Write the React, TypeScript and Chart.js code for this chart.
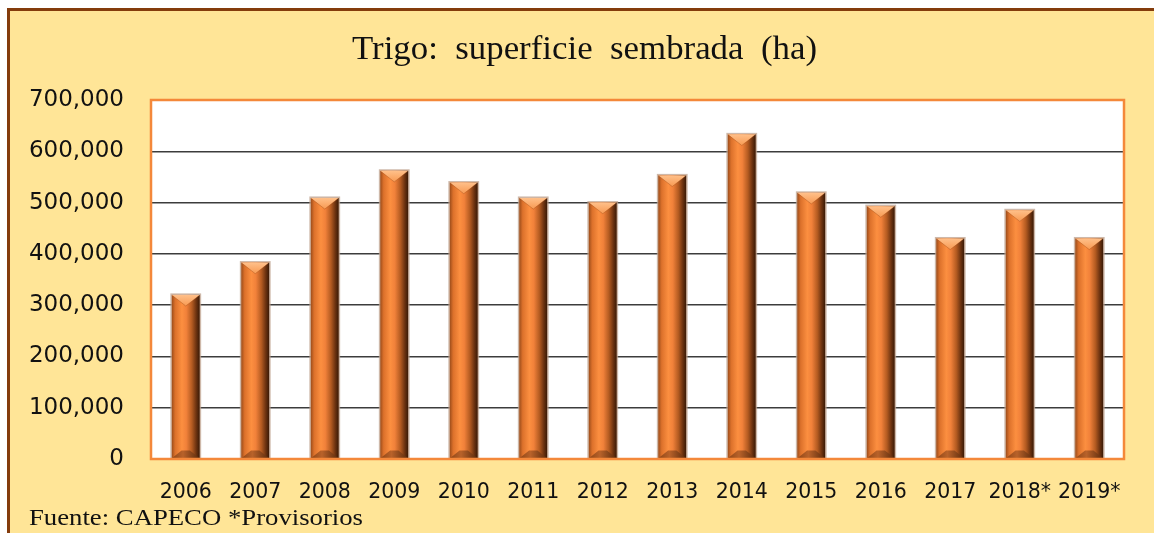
import React, { useEffect, useRef } from "react";
import { Chart, registerables } from "chart.js";

Chart.register(...registerables);

const categories = ["2006", "2007", "2008", "2009", "2010", "2011", "2012", "2013", "2014", "2015", "2016", "2017", "2018*", "2019*"];
const superficie = [320000, 383000, 509000, 562000, 539000, 509000, 500000, 553000, 633000, 519000, 493000, 430000, 485000, 430000];
const yMin = 0;
const yMax = 700000;
const yStep = 100000;
const titleText = "Trigo:  superficie  sembrada  (ha)";
const footerText = "Fuente: CAPECO *Provisorios";

const W = 1154;
const H = 533;

const decorPlugin = {
  id: "decor",
  beforeDraw(chart: any) {
    const ctx = chart.ctx;
    const a = chart.chartArea;
    ctx.save();
    ctx.fillStyle = "#ffffff";
    ctx.fillRect(0, 0, W, H);
    ctx.fillStyle = "#FFE597";
    ctx.fillRect(7, 8, W, H);
    ctx.fillStyle = "#843C0C";
    ctx.fillRect(7, 8, W, 3);
    ctx.fillRect(7, 8, 3, H);
    ctx.fillStyle = "#ffffff";
    ctx.fillRect(a.left, a.top, a.right - a.left, a.bottom - a.top);
    ctx.restore();
  },
  afterDatasetsDraw(chart: any) {
    const ctx = chart.ctx;
    const meta = chart.getDatasetMeta(0);
    ctx.save();
    meta.data.forEach((el: any) => {
      const p = el.getProps(["x", "y", "base", "width"], true);
      const w = p.width;
      const l = p.x - w / 2;
      const r = p.x + w / 2;
      const t = Math.min(p.y, p.base);
      const b = Math.max(p.y, p.base);
      // soft outline
      ctx.fillStyle = "rgba(190,160,140,0.75)";
      ctx.fillRect(l - 1.5, t - 1.5, w + 3, b - t + 1.5);
      const g = ctx.createLinearGradient(l, 0, r, 0);
      g.addColorStop(0, "#9E4E1B");
      g.addColorStop(0.12, "#DC712B");
      g.addColorStop(0.36, "#FC8F40");
      g.addColorStop(0.52, "#F1813A");
      g.addColorStop(0.72, "#B45B21");
      g.addColorStop(0.88, "#6B3210");
      g.addColorStop(1, "#3A1A06");
      ctx.fillStyle = g;
      ctx.fillRect(l, t, w, b - t);
      const d = w * 0.4;
      // top bevel: light V
      const gt = ctx.createLinearGradient(0, t, 0, t + d);
      gt.addColorStop(0, "#FFC08A");
      gt.addColorStop(1, "#F89A52");
      ctx.fillStyle = gt;
      ctx.beginPath();
      ctx.moveTo(l, t);
      ctx.lineTo(r, t);
      ctx.lineTo(p.x, t + d);
      ctx.closePath();
      ctx.fill();
      ctx.strokeStyle = "rgba(150,70,20,0.35)";
      ctx.lineWidth = 1;
      ctx.beginPath();
      ctx.moveTo(l + 1, t + 1);
      ctx.lineTo(p.x, t + d);
      ctx.lineTo(r - 1, t + 1);
      ctx.stroke();
      // bottom bevel
      const dbot = d * 0.7;
      const gb = ctx.createLinearGradient(l, 0, r, 0);
      gb.addColorStop(0, "#8E4516");
      gb.addColorStop(0.4, "#B8622A");
      gb.addColorStop(1, "#5A2A0C");
      ctx.fillStyle = gb;
      ctx.beginPath();
      ctx.moveTo(l, b);
      ctx.lineTo(r, b);
      ctx.lineTo(p.x + w * 0.15, b - dbot);
      ctx.lineTo(p.x - w * 0.15, b - dbot);
      ctx.closePath();
      ctx.fill();
    });
    ctx.restore();
  },
  afterDraw(chart: any) {
    const ctx = chart.ctx;
    const a = chart.chartArea;
    ctx.save();
    ctx.strokeStyle = "#F4883A";
    ctx.lineWidth = 2.5;
    ctx.strokeRect(a.left, a.top, a.right - a.left, a.bottom - a.top);

    // title
    ctx.fillStyle = "#111111";
    ctx.font = "34px 'Liberation Serif'";
    ctx.textBaseline = "alphabetic";
    ctx.textAlign = "left";
    const tw = ctx.measureText(titleText).width;
    const tsx = 465 / tw;
    ctx.save();
    ctx.translate(352, 59);
    ctx.scale(tsx, 1);
    ctx.fillText(titleText, 0, 0);
    ctx.restore();

    // footer
    ctx.font = "24px 'Liberation Serif'";
    const fw = ctx.measureText(footerText).width;
    const fsx = 334 / fw;
    ctx.save();
    ctx.translate(29, 525);
    ctx.scale(fsx, 1);
    ctx.fillText(footerText, 0, 0);
    ctx.restore();
    ctx.restore();
  },
};

export default function App() {
  const ref = useRef<HTMLCanvasElement | null>(null);
  useEffect(() => {
    document.body.style.margin = "0";
    const canvas = ref.current;
    if (!canvas) return;
    const chart = new Chart(canvas, {
      type: "bar",
      data: {
        labels: categories,
        datasets: [
          {
            label: "Superficie sembrada (ha)",
            data: superficie,
            backgroundColor: "#E8782F",
            borderWidth: 0,
            barPercentage: 0.4,
            categoryPercentage: 1,
          },
        ],
      },
      options: {
        responsive: false,
        maintainAspectRatio: false,
        animation: false,
        devicePixelRatio: 1,
        layout: { padding: { left: 15, right: 30, top: 100, bottom: 0 } },
        plugins: {
          legend: { display: false },
          title: { display: false },
          tooltip: { enabled: false },
        },
        scales: {
          y: {
            min: yMin,
            max: yMax,
            ticks: {
              stepSize: yStep,
              color: "#111111",
              font: { family: "'DejaVu Sans'", size: 23 },
              padding: 27,
              callback: (v: any) => Number(v).toLocaleString("en-US"),
            },
            grid: {
              drawTicks: false,
              lineWidth: 1.5,
              color: (c: any) =>
                c.tick && (c.tick.value === yMin || c.tick.value === yMax) ? "rgba(0,0,0,0)" : "#3c3c3c",
            },
            border: { display: false },
            afterFit: (s: any) => {
              s.width = 136;
            },
          },
          x: {
            ticks: {
              color: "#111111",
              font: { family: "'DejaVu Sans'", size: 20.5 },
              padding: 21,
              maxRotation: 0,
              autoSkip: false,
            },
            grid: { display: false, drawTicks: false },
            border: { display: false },
            afterFit: (s: any) => {
              s.height = 74;
            },
          },
        },
      },
      plugins: [decorPlugin],
    });
    return () => chart.destroy();
  }, []);
  return (
    <div style={{ position: "absolute", left: 0, top: 0, width: W, height: H }}>
      <canvas ref={ref} width={W} height={H} style={{ display: "block" }} />
    </div>
  );
}
